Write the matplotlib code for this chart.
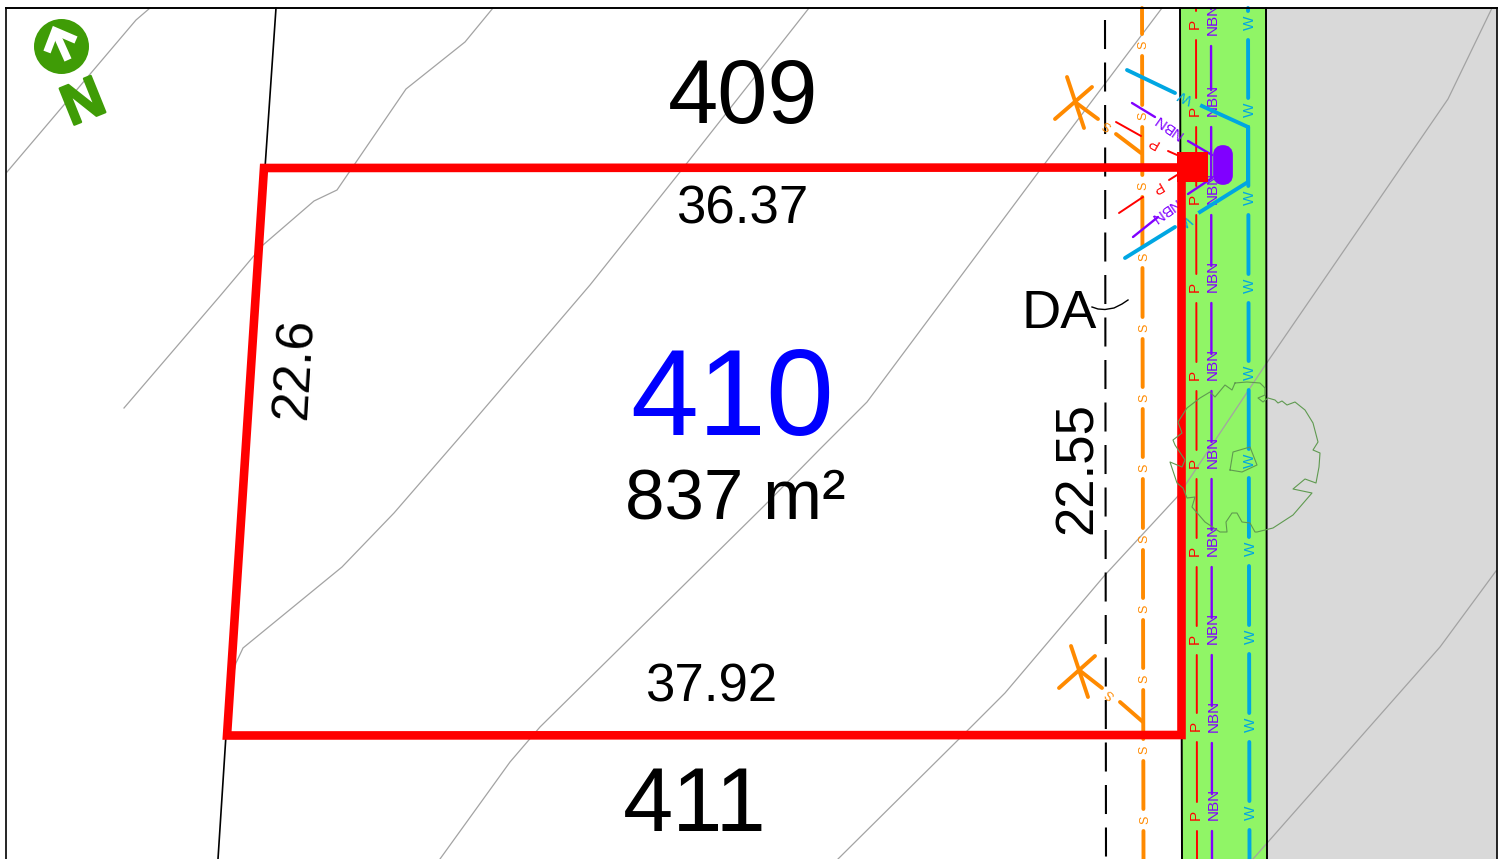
import matplotlib
matplotlib.use('Agg')
import matplotlib.pyplot as plt
import matplotlib.patheffects as pe
from matplotlib.patches import Rectangle, FancyBboxPatch, Circle

plt.rcParams['font.family'] = ['Liberation Sans', 'DejaVu Sans']
plt.rcParams['lines.scale_dashes'] = False

# map coordinates are the pixels of the sheet
lot_x = [264, 1181.5, 1181.5, 227]
lot_y = [168, 167.5, 735, 735.5]

contour_a = [(7, 172), (136, 20), (150, 8)]
contour_b = [(124, 408), (220, 296), (263, 245), (314, 201), (337, 190), (406, 89), (465, 42), (493, 8)]
contour_c = [(232, 680), (236, 663), (243, 648), (342, 567), (394, 513), (466, 430), (590, 285), (680, 172), (809, 8)]
contour_d = [(440, 859), (510, 762), (540, 727), (765, 505), (820, 449), (867, 402), (1040, 170), (1162, 8)]
contour_e = [(838, 859), (958, 740), (1005, 693), (1105, 575), (1178, 496), (1240, 403), (1266, 364), (1448, 99), (1492, 8)]
contour_f = [(1253, 859), (1440, 647), (1496, 571)]
contours = [contour_a, contour_b, contour_c, contour_d, contour_e, contour_f]

parcel_upper = [(276, 8), (265, 168)]
parcel_lower = [(226, 735), (218, 859)]

s_labels = [45, 116, 186, 257, 328, 398, 468, 539, 609, 679, 750, 820]
p_labels = [24, 111, 199, 287, 375, 463, 551, 639, 726, 815]
nbn_labels = [19, 100, 188, 276, 364, 452, 540, 628, 716, 804]
w_labels = [23, 110, 198, 286, 373, 461, 549, 637, 725, 813]

blue_bend = [(1202, 106), (1248, 127), (1248, 182), (1200, 212)]
blue_laterals = [[(1127, 70), (1175, 93)], [(1175, 227), (1125, 258)]]
purple_laterals = [[(1132, 103), (1155, 117)], [(1188, 141), (1212, 155)],
                   [(1188, 194), (1212, 178)], [(1158, 217), (1133, 237)]]
red_laterals = [[(1116, 122), (1141, 136)], [(1168, 151), (1177, 155)],
                [(1169, 180), (1177, 175)], [(1143, 197), (1119, 213)]]
orange_laterals = [[(1055, 119), (1092, 87)], [(1067, 77), (1084, 128)], [(1075, 102), (1098, 119)],
                   [(1116, 134), (1141, 153)],
                   [(1059, 688), (1095, 656)], [(1071, 646), (1088, 697)], [(1079, 670), (1102, 688)],
                   [(1120, 702), (1143, 722)]]

tree = [(1235, 383), (1247, 382), (1260, 383), (1265, 388), (1265, 395), (1258, 398), (1263, 402), (1268, 398),
        (1275, 400), (1278, 403), (1282, 401), (1287, 405), (1295, 402), (1305, 410), (1313, 423), (1318, 442),
        (1313, 450), (1320, 453), (1319, 467), (1316, 483), (1305, 479), (1293, 489), (1312, 493), (1293, 515),
        (1273, 528), (1257, 532), (1255, 532), (1250, 523), (1242, 522), (1237, 513), (1232, 513), (1226, 522),
        (1227, 532), (1220, 532), (1205, 522), (1192, 507), (1195, 497), (1187, 498), (1183, 488), (1177, 483),
        (1170, 462), (1182, 467), (1185, 460), (1175, 445), (1173, 440), (1182, 433), (1178, 422), (1187, 408),
        (1200, 398), (1210, 392), (1215, 397), (1225, 385), (1232, 390), (1235, 383)]
tree_inner = [(1230, 470), (1233, 452), (1250, 447), (1257, 465), (1242, 472), (1230, 470)]
da_leader = [(1092, 307), (1098, 309), (1105, 309.5), (1114, 308), (1122, 304), (1128, 300)]
arrow_shaft = [(68, 60), (55, 31)]
arrow_head = [(47, 52), (55, 31), (76, 40)]

RED = '#ff0000'
ORANGE = '#ff8a00'
PURPLE = '#8000ff'
BLUE = '#00a6e2'
GREY = '#a3a3a3'
NORTH = '#3f9c06'


def poly(ax, pts, **kw):
    ax.plot([p[0] for p in pts], [p[1] for p in pts], **kw)


def x_at(x_top, x_bot, y):
    return x_top + (x_bot - x_top) * y / 859


def service(ax, labels, text, x_top, x_bot, color, lw, after, before, size, line_shift=0):
    stops = [labels[0] - 88] + labels + [labels[-1] + 88]
    for a, b in zip(stops[:-1], stops[1:]):
        y0 = max(a + after, 8)
        y1 = b - before
        if y1 <= y0:
            continue
        ax.plot([x_at(x_top, x_bot, y0) + line_shift, x_at(x_top, x_bot, y1) + line_shift], [y0, y1],
                color=color, lw=lw, solid_capstyle='round', zorder=3)
    for y in labels:
        ax.text(x_at(x_top, x_bot, y), y, text, color=color, fontsize=size, rotation=90,
                ha='center', va='center_baseline', rotation_mode='anchor', zorder=3)


fig = plt.figure(figsize=(15.05, 8.59), dpi=100)
ax = fig.add_axes([0, 0, 1, 1])
ax.set_xlim(0, 1505)
ax.set_ylim(859, 0)
ax.axis('off')

ax.add_patch(Rectangle((1181, 8), 85, 851, fc='#90f566', ec='none', zorder=1))
ax.add_patch(Rectangle((1266, 8), 231, 851, fc='#d9d9d9', ec='none', zorder=1))

for c in contours:
    poly(ax, c, color=GREY, lw=0.9, zorder=2)
poly(ax, parcel_upper, color='black', lw=1.2, zorder=2)
poly(ax, parcel_lower, color='black', lw=1.2, zorder=2)

# frame and road edges
ax.plot([6, 6], [859, 8], color='black', lw=1.2, zorder=2)
ax.plot([6, 1497], [8, 8], color='black', lw=1.4, zorder=6)
ax.plot([1497, 1497], [8, 859], color='black', lw=1.2, zorder=2)
ax.plot([1180, 1182], [8, 859], color='black', lw=1.4, zorder=2)
ax.plot([1266, 1267], [8, 859], color='black', lw=1.4, zorder=2)

# DA line
ax.plot([1105, 1106], [20, 859], color='black', lw=1.5, dashes=(20.9, 9.7), zorder=2)
poly(ax, da_leader, color='black', lw=1.0, zorder=3)

service(ax, s_labels, 'S', 1142, 1143.5, ORANGE, 2.8, 11, 11, 9)
service(ax, p_labels, 'P', 1193, 1194, RED, 1.4, 16, 13, 11, line_shift=3)
service(ax, nbn_labels, 'NBN', 1211, 1212, PURPLE, 1.7, 27, 10, 11)
service(ax, w_labels, 'W', 1248, 1249.5, BLUE, 2.8, 17, 12, 11)

poly(ax, blue_bend, color=BLUE, lw=2.8, solid_joinstyle='miter', zorder=3)
for seg in blue_laterals:
    poly(ax, seg, color=BLUE, lw=2.8, solid_capstyle='round', zorder=3)
for seg in purple_laterals:
    poly(ax, seg, color=PURPLE, lw=1.7, solid_capstyle='round', zorder=3)
for seg in red_laterals:
    poly(ax, seg, color=RED, lw=1.4, solid_capstyle='round', zorder=3)
for seg in orange_laterals:
    poly(ax, seg, color=ORANGE, lw=2.8, solid_capstyle='round', zorder=3)

for x, y, s, c, rot, size in [(1185, 98, 'W', BLUE, 154, 11), (1185, 222, 'W', BLUE, 212, 11),
                              (1167, 127, 'NBN', PURPLE, 145, 11), (1165, 212, 'NBN', PURPLE, 215, 11),
                              (1153, 143, 'P', RED, 150, 11), (1157, 188, 'P', RED, 210, 11),
                              (1107, 126, 'S', ORANGE, 150, 9), (1109, 695, 'S', ORANGE, 140, 9)]:
    ax.text(x, y, s, color=c, fontsize=size, rotation=rot, ha='center', va='center_baseline',
            rotation_mode='anchor', zorder=3)

# lot boundary
ax.fill(lot_x, lot_y, fc='none', ec=RED, lw=6.2, joinstyle='miter', zorder=4)
ax.add_patch(Rectangle((1177, 152), 31, 30, fc=RED, ec='none', zorder=4))
ax.add_patch(FancyBboxPatch((1218, 150), 10, 30, boxstyle='round,pad=0,rounding_size=5', mutation_aspect=1,
                            fc=PURPLE, ec=PURPLE, lw=7, zorder=4))

poly(ax, tree, color='#5f9a50', lw=0.8, zorder=5)
poly(ax, tree_inner, color='#5f9a50', lw=0.8, zorder=5)

# north arrow
ax.add_patch(Circle((61.5, 46.5), 27.5, fc=NORTH, ec='none', zorder=5))
poly(ax, arrow_shaft, color='white', lw=5.5, solid_capstyle='butt', zorder=6)
poly(ax, arrow_head, color='white', lw=5.5, solid_capstyle='butt', solid_joinstyle='miter', zorder=6)
ax.text(82, 99, 'N', color=NORTH, fontsize=41, fontweight='bold', rotation=22, ha='center', va='center_baseline',
        rotation_mode='anchor', zorder=6,
        path_effects=[pe.withStroke(linewidth=1.6, foreground=NORTH)])

ax.text(743, 123, '409', fontsize=65, ha='center', va='baseline', zorder=7)
ax.text(695, 831, '411', fontsize=65, ha='center', va='baseline', zorder=7)
ax.text(732, 435, '410', color='#0000ff', fontsize=88, ha='center', va='baseline', zorder=7)
ax.text(735, 519, '837 m²', fontsize=51, ha='center', va='baseline', zorder=7)
ax.text(742, 224, '36.37', fontsize=38, ha='center', va='baseline', zorder=7)
ax.text(711, 702, '37.92', fontsize=38, ha='center', va='baseline', zorder=7)
ax.text(309, 369, '22.6', fontsize=37.5, rotation=86.5, ha='center', va='baseline', rotation_mode='anchor', zorder=7)
ax.text(1092, 468, '22.55', fontsize=38, rotation=90, ha='center', va='baseline', rotation_mode='anchor', zorder=7)
ax.text(1059, 328, 'DA', fontsize=39, ha='center', va='baseline', zorder=7)

fig.savefig('out.png', dpi=100)
